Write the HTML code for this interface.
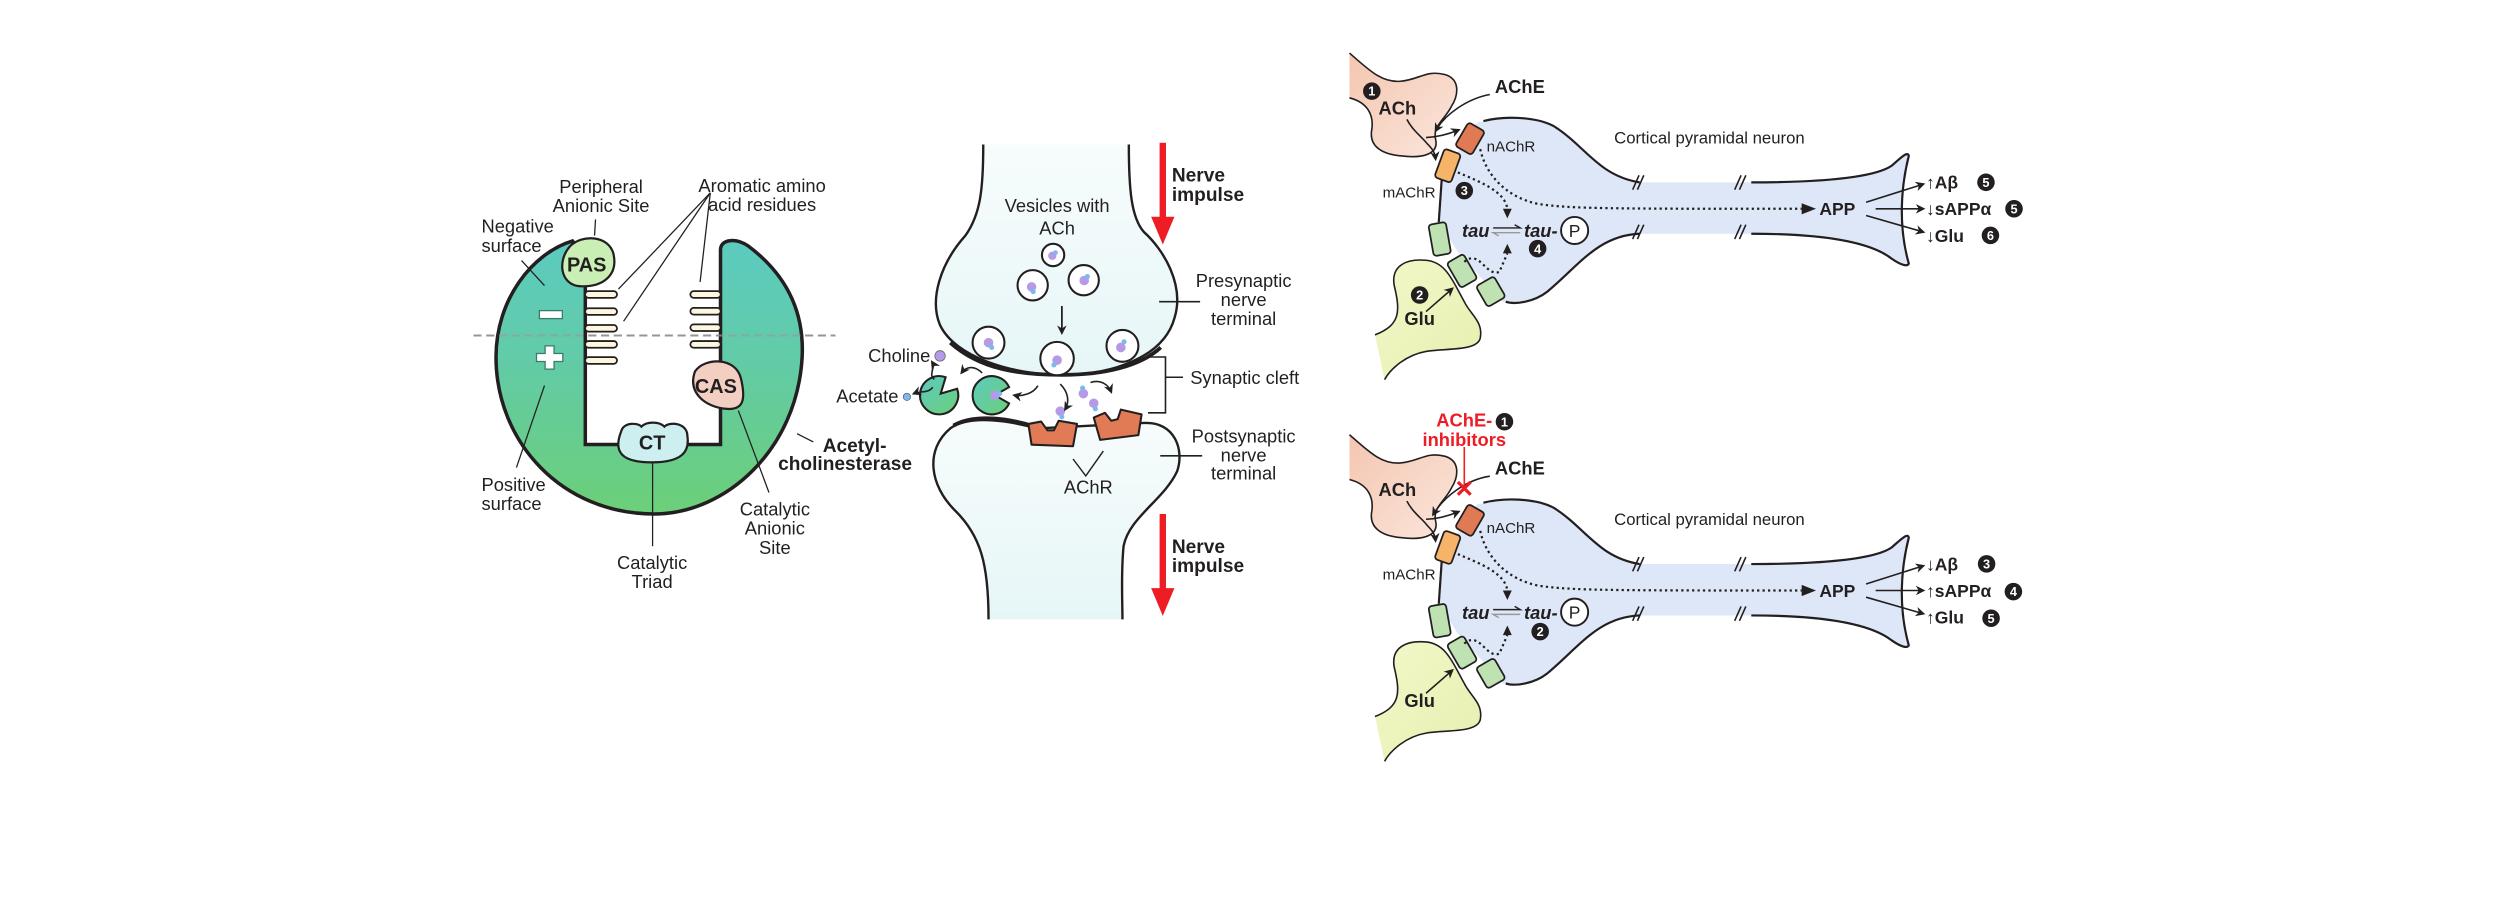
<!DOCTYPE html>
<html><head><meta charset="utf-8"><style>
html,body{margin:0;padding:0;background:#fff;}
svg{display:block;}
text{font-family:"Liberation Sans",sans-serif;fill:#231f20;}
.l{font-size:11.5px;}
.b{font-size:12px;font-weight:bold;}
.s{font-size:9.5px;}
.ns{vector-effect:non-scaling-stroke;}
</style></head><body>
<svg width="2500" height="918" viewBox="0 0 1568 576" preserveAspectRatio="none" xmlns="http://www.w3.org/2000/svg">
<defs>
<linearGradient id="ache" x1="0" y1="0" x2="0" y2="1"><stop offset="0" stop-color="#5ccbc0"/><stop offset="0.45" stop-color="#62cba6"/><stop offset="1" stop-color="#6ccf78"/></linearGradient>
<linearGradient id="enz" x1="0" y1="0" x2="1" y2="1"><stop offset="0" stop-color="#5ccbc0"/><stop offset="1" stop-color="#6ccf78"/></linearGradient>
<linearGradient id="term" x1="0" y1="0" x2="0" y2="1"><stop offset="0" stop-color="#f7fcfc"/><stop offset="1" stop-color="#e6f6f7"/></linearGradient>
<linearGradient id="pink" x1="0" y1="0" x2="1" y2="1"><stop offset="0" stop-color="#f4c6b0"/><stop offset="1" stop-color="#fbe6dc"/></linearGradient>
<linearGradient id="yel" x1="0" y1="0" x2="1" y2="1"><stop offset="0" stop-color="#f3f8c8"/><stop offset="1" stop-color="#e6efb0"/></linearGradient>
<marker id="ah" viewBox="0 0 10 10" refX="8" refY="5" markerWidth="6" markerHeight="6" markerUnits="userSpaceOnUse" orient="auto"><path d="M0 0 L10 5 L0 10 L3 5 Z" fill="#231f20"/></marker>
</defs>

<!-- ============ PANEL 1: AChE ============ -->
<line x1="297" y1="210.5" x2="524" y2="210.5" stroke="#8a8a8a" stroke-width="1.3" stroke-dasharray="5,3"/>
<path d="M367.1 161.3 L367.1 278.9 L451.9 278.9 L451.9 156.8 C451.9 150 461.5 149 469.5 154.5 C490.3 170.2 504.7 192.6 503.1 224 C499.9 282.2 455.1 322.5 410.3 322.5 C352.7 322.5 311.1 277.7 311.1 224 C311.1 188.1 333.5 159 359.1 151.2 Z" fill="url(#ache)" stroke="#231f20" stroke-width="2.2"/>
<line x1="297" y1="210.5" x2="524" y2="210.5" stroke="#9a9a9a" stroke-width="1.2" stroke-dasharray="5,3" opacity="0.7"/>
<g fill="#fdf7df" stroke="#231f20" stroke-width="1.1">
<rect x="367" y="182.7" width="20" height="4.2" rx="2.1"/><rect x="367" y="193.4" width="20" height="4.2" rx="2.1"/><rect x="367" y="203.9" width="20" height="4.2" rx="2.1"/><rect x="367" y="214" width="20" height="4.2" rx="2.1"/><rect x="367" y="224.1" width="20" height="4.2" rx="2.1"/>
<rect x="433" y="182.7" width="19" height="4.2" rx="2.1"/><rect x="433" y="193.2" width="19" height="4.2" rx="2.1"/><rect x="433" y="203.5" width="19" height="4.2" rx="2.1"/><rect x="433" y="214" width="19" height="4.2" rx="2.1"/>
</g>
<g fill="#fff" stroke="#3a7a6a" stroke-width="0.8">
<rect x="338.3" y="194.9" width="14.4" height="5"/>
<path d="M341.9 217 h5.6 v4.8 h5.5 v5 h-5.5 v4.8 h-5.6 v-4.8 h-5.4 v-5 h5.4 Z"/>
</g>
<path d="M357.5 154.5 C365.5 146.7 381.5 147.8 384.7 159 C387.9 172.5 378.3 180.3 363.9 179.6 C351.1 178.7 349.5 163.5 357.5 154.5 Z" fill="#c9efb4" stroke="#231f20" stroke-width="1.4"/>
<path d="M435.9 233 C442.3 224 461.5 224 464.7 237.4 C467.9 250.9 466.3 257.6 455.1 256.5 C442.3 255.3 431.1 246.4 435.9 233 Z" fill="#f3cfc2" stroke="#231f20" stroke-width="1.4"/>
<path d="M389.5 271 C391.1 264.3 400.7 265.4 402.3 267.7 C405.5 264.3 413.5 264.3 416.7 267.7 C419.9 264.3 431.1 265.4 431.1 273.3 C432.7 283.3 427.9 290.1 408.7 290.1 C389.5 290.1 384.7 283.3 389.5 271 Z" fill="#cdeff0" stroke="#231f20" stroke-width="1.4"/>
<text class="b" x="368" y="170.5" text-anchor="middle" style="font-size:12.5px">PAS</text>
<text class="b" x="449" y="246.5" text-anchor="middle" style="font-size:12.5px">CAS</text>
<text class="b" x="409" y="282" text-anchor="middle" style="font-size:12.5px">CT</text>
<g stroke="#231f20" stroke-width="0.8" fill="none">
<line x1="373.5" y1="137.7" x2="372.9" y2="147.8"/>
<line x1="445.5" y1="121" x2="387.9" y2="181.4"/><line x1="445.5" y1="121" x2="391.1" y2="201.6"/><line x1="445.5" y1="121" x2="439.1" y2="176.9"/>
<line x1="327.1" y1="163.5" x2="341.5" y2="179.2"/>
<line x1="341.5" y1="241.9" x2="323.9" y2="293.4"/>
<line x1="409.3" y1="290" x2="409.3" y2="342.7"/>
<line x1="463.1" y1="257.6" x2="482.3" y2="309"/>
<line x1="499.9" y1="272.1" x2="510.1" y2="277.3"/>
</g>
<g class="l">
<text x="377" y="121" text-anchor="middle">Peripheral</text>
<text x="377" y="133" text-anchor="middle">Anionic Site</text>
<text x="478" y="120.5" text-anchor="middle">Aromatic amino</text>
<text x="478" y="132.5" text-anchor="middle">acid residues</text>
<text x="302" y="146">Negative</text>
<text x="302" y="158">surface</text>
<text x="302" y="308">Positive</text>
<text x="302" y="320">surface</text>
<text x="409" y="357" text-anchor="middle">Catalytic</text>
<text x="409" y="369" text-anchor="middle">Triad</text>
<text x="486" y="323.5" text-anchor="middle">Catalytic</text>
<text x="486" y="335.5" text-anchor="middle">Anionic</text>
<text x="486" y="347.5" text-anchor="middle">Site</text>
</g>
<text class="b" x="516" y="283.5">Acetyl-</text>
<text class="b" x="572" y="295" text-anchor="end">cholinesterase</text>

<!-- ============ PANEL 2: Synapse ============ -->
<path d="M616.7 90.7 C616.7 118.7 615 134.4 605.5 147.8 C589.5 165.7 583 188 589.5 203.8 C599 224 634.3 235.2 666.3 235.2 C698 235.2 730 224 736.7 199.3 C743 179 730 156.8 717.5 145.6 C709.5 136.6 708 118.7 708 90.7" fill="url(#term)" stroke="#231f20" stroke-width="1.5"/>
<path d="M596 215 C615 232 640 235.2 666.3 235.2 C692 235.2 715 230 728 218" fill="none" stroke="#231f20" stroke-width="2.4"/>
<path d="M620 388.6 C620 353.9 615 336 599 320.3 C583 304.6 580 282.2 596 268.8 C608.7 259.8 634 264.3 650.3 268.8 L717.5 265.4 C736.7 264.3 743 282.2 738.3 295.7 C730 313.6 708 324.8 704.7 342.7 C703 360.6 704 376 704 388.6" fill="url(#term)" stroke="#231f20" stroke-width="1.5"/>
<path d="M598 267 C612 259 635 263 650 268" fill="none" stroke="#231f20" stroke-width="2.4"/>
<!-- receptors -->
<path d="M645 266 L653 264.5 L657 270 L661 270 L664 264 L675.5 266 L673 280 L647 279 Z" fill="#e07b56" stroke="#231f20" stroke-width="1.3" stroke-linejoin="round"/>
<path d="M686 262 L693 259 L697 264 L701 263 L703 257 L716 260 L714 273 L690 276 Z" fill="#e07b56" stroke="#231f20" stroke-width="1.3" stroke-linejoin="round"/>
<!-- vesicles -->
<g fill="#fff" stroke="#231f20" stroke-width="1.3">
<circle cx="660.5" cy="160" r="7"/><circle cx="647.7" cy="179" r="9.5"/><circle cx="679.7" cy="175.8" r="9.5"/>
<circle cx="620" cy="215" r="10"/><circle cx="663" cy="225" r="10.5"/><circle cx="704" cy="217" r="10"/>
</g>
<g>
<circle cx="660" cy="160.5" r="2.6" fill="#b59be6"/><circle cx="662" cy="158.5" r="1.5" fill="#7db8ef"/>
<circle cx="647" cy="180" r="3" fill="#b59be6"/><circle cx="648" cy="183" r="1.6" fill="#7db8ef"/>
<circle cx="680" cy="176" r="3" fill="#b59be6"/><circle cx="682" cy="173.5" r="1.6" fill="#7db8ef"/>
<circle cx="620" cy="215" r="3" fill="#b59be6"/><circle cx="622" cy="218" r="1.6" fill="#7db8ef"/>
<circle cx="663" cy="226" r="3" fill="#b59be6"/><circle cx="661" cy="229" r="1.6" fill="#7db8ef"/>
<circle cx="703" cy="218" r="3" fill="#b59be6"/><circle cx="705" cy="214.5" r="1.6" fill="#7db8ef"/>
<circle cx="679.5" cy="247" r="3" fill="#b59be6"/><circle cx="679" cy="243.5" r="1.6" fill="#7db8ef"/>
<circle cx="665" cy="258" r="3" fill="#b59be6"/><circle cx="666" cy="261.5" r="1.6" fill="#7db8ef"/>
<circle cx="686" cy="253" r="3" fill="#b59be6"/><circle cx="687" cy="256.5" r="1.6" fill="#7db8ef"/>
<circle cx="589.6" cy="223.3" r="3.3" fill="#b59be6" stroke="#555" stroke-width="0.4"/>
<circle cx="568.8" cy="249" r="2.3" fill="#7db8ef" stroke="#555" stroke-width="0.4"/>
</g>
<!-- enzymes -->
<path d="M590 247 L600.3 243.9 A12 12 0 1 1 593.1 236.7 Z" fill="url(#enz)" stroke="#231f20" stroke-width="1.3"/>
<path d="M624 248 L632.9 253.1 A12 12 0 1 1 632.9 242.9 Z" fill="url(#enz)" stroke="#231f20" stroke-width="1.3"/>
<circle cx="624" cy="248" r="3" fill="#b59be6"/><circle cx="627" cy="247" r="1.6" fill="#7db8ef"/>
<!-- small arrows -->
<g fill="none" stroke="#231f20" stroke-width="1" marker-end="url(#ah)">
<line x1="666" y1="192" x2="666" y2="209"/>
<path d="M616 234 C611 229 606 230 603 234"/>
<path d="M651 242 C648 247 641 249 636 248"/>
<path d="M665 241 C670 246 671 252 668 257"/>
<path d="M684 240 C690 238 695 241 697 246"/>
<path d="M586 238 C582 235 587 231 584.5 227"/>
<path d="M585 243 C582 247 578 245 573 247"/>
</g>
<line x1="666" y1="192" x2="666" y2="206" stroke="#231f20" stroke-width="1"/>
<!-- bracket -->
<path d="M720 224 H731 V259 H720 M731 236.7 H742" fill="none" stroke="#231f20" stroke-width="1"/>
<line x1="727" y1="189.3" x2="752.7" y2="189.3" stroke="#231f20" stroke-width="1"/>
<line x1="727.7" y1="286" x2="754" y2="286" stroke="#231f20" stroke-width="1"/>
<path d="M673 288 L681 298.6 L692 283" fill="none" stroke="#231f20" stroke-width="0.9"/>
<!-- red arrows -->
<g fill="#ee1c24">
<rect x="727.3" y="89.6" width="4" height="48"/><path d="M722 136 L736.6 136 L729.3 153.4 Z"/>
<rect x="727.3" y="322.5" width="4" height="48"/><path d="M722 369 L736.6 369 L729.3 386.4 Z"/>
</g>
<g class="l">
<text x="663" y="133" text-anchor="middle">Vesicles with</text>
<text x="663" y="147" text-anchor="middle">ACh</text>
<text x="583.5" y="227" text-anchor="end">Choline</text>
<text x="563.5" y="252.5" text-anchor="end">Acetate</text>
<text x="780" y="180" text-anchor="middle">Presynaptic</text>
<text x="780" y="192" text-anchor="middle">nerve</text>
<text x="780" y="204" text-anchor="middle">terminal</text>
<text x="746.5" y="241">Synaptic cleft</text>
<text x="780" y="277.5" text-anchor="middle">Postsynaptic</text>
<text x="780" y="289.5" text-anchor="middle">nerve</text>
<text x="780" y="301" text-anchor="middle">terminal</text>
<text x="682.6" y="309.5" text-anchor="middle">AChR</text>
</g>
<g class="b">
<text x="735" y="114">Nerve</text><text x="735" y="126">impulse</text>
<text x="735" y="347">Nerve</text><text x="735" y="359">impulse</text>
</g>

<!-- ============ PANEL 3: neuron (shared) ============ -->
<g id="base">
<g transform="translate(834.4,12.5) scale(0.4,0.208)">
<path class="ns" d="M30 100 C60 150 80 190 110 185 C140 180 150 150 180 165 C205 180 200 230 190 260 C180 300 160 320 165 360 C170 400 150 420 110 410 C80 405 60 380 65 330 C68 290 60 250 30 235" fill="url(#pink)" stroke="#231f20" stroke-width="1.6"/>
<path class="ns" d="M70 950 C110 920 110 880 100 800 C95 740 120 720 150 725 C180 730 190 780 210 850 C220 890 240 910 235 960 C230 1000 180 990 150 1000 C120 1010 95 1050 85 1085" fill="url(#yel)" stroke="#231f20" stroke-width="1.6"/>
<path d="M230 310 C270 290 320 290 350 320 C400 380 420 470 490 490 L650 490 C750 490 850 480 880 440 C895 415 905 395 907 410 C895 500 890 620 907 735 C905 745 895 740 880 720 C840 660 750 645 650 645 L490 645 C420 650 390 740 340 820 C320 850 290 860 270 850 L200 700 L170 610 L175 470 Z" fill="#dde7f7"/>
<g fill="none" stroke="#231f20" stroke-width="2.2" class="ns">
<path class="ns" d="M240 305 C270 290 320 290 350 320 C400 380 420 470 485 490"/>
<path class="ns" d="M660 490 C750 490 850 480 880 440 C895 415 905 395 907 410 C895 500 890 620 907 735 C905 745 895 740 880 720 C840 660 750 645 660 645"/>
<path class="ns" d="M485 645 C420 650 390 740 340 820 C320 850 290 860 275 850"/>
<path class="ns" d="M175 470 L170 610"/>
</g>
</g>
<!-- breaks -->
<g stroke="#231f20" stroke-width="1" fill="none">
<path d="M1028 110 L1024 119 M1031 110 L1027 119"/><path d="M1092 110 L1088 119 M1095 110 L1091 119"/>
<path d="M1028 141 L1024 150 M1031 141 L1027 150"/><path d="M1092 141 L1088 150 M1095 141 L1091 150"/>
</g>
<!-- receptors -->
<g stroke="#231f20" stroke-width="1.1" stroke-linejoin="round">
<rect x="916" y="78.5" width="12" height="17" rx="2" fill="#df7a55" transform="rotate(30 922 87)"/>
<rect x="902.5" y="94.5" width="11" height="19" rx="2" fill="#f5b468" transform="rotate(20 908 104)"/>
<rect x="897.5" y="140" width="11" height="20" rx="2" fill="#bfe2b3" transform="rotate(-10 903 150)"/>
<rect x="911" y="161" width="12" height="18" rx="2" fill="#bfe2b3" transform="rotate(-30 917 170)"/>
<rect x="928.5" y="175.5" width="13" height="15" rx="2" fill="#bfe2b3" transform="rotate(-30 935 183)"/>
</g>
<!-- arrows -->
<g fill="none" stroke="#231f20" stroke-width="1" marker-end="url(#ah)">
<path d="M882.4 74.9 C886 82 892 86 895 90 C899 94 900 96 900.4 99.9"/>
<path d="M894.4 86.3 C902 86 909 84 915 81.5"/>
<path d="M894.4 195.5 L911 181"/>
<path d="M1176.4 131 L1206.4 131"/>
<path d="M1170.4 126.9 L1206.4 115.5"/>
<path d="M1170.4 135.2 L1206.4 145.6"/>
</g>
<g fill="none" stroke="#231f20" stroke-width="1.4" stroke-dasharray="1.4,2">
<path d="M928.4 93.6 C932 110 945 124 965 128 C985 131 1010 131 1130 131"/>
<path d="M914.4 108.2 C928 114 944 120 945.4 131"/>
<path d="M918.4 164.3 C928 156 932 174 940.4 170.6 L945.4 159"/>
</g>
<g fill="#231f20">
<path d="M1130 127.5 L1139 131 L1130 134.5 Z"/>
<path d="M942.6 131 L945.4 137 L948.2 131 Z"/>
<path d="M942.6 159 L945.4 153 L948.2 159 Z"/>
</g>
<g stroke-width="0.9" fill="none">
<path d="M936.5 143 L953.5 143 L950 141" stroke="#231f20"/>
<path d="M953.5 146 L936.5 146 L940 148" stroke="#999"/>
</g>
<circle cx="987.6" cy="144.6" r="8.5" fill="#fff" stroke="#231f20" stroke-width="1.2"/>
<text x="987.6" y="148.6" text-anchor="middle" style="font-size:11px">P</text>
<text class="b" x="925.6" y="148.8" text-anchor="middle" style="font-style:italic;font-size:11.5px">tau</text>
<text class="b" x="966.4" y="148.8" text-anchor="middle" style="font-style:italic;font-size:11.5px">tau-</text>
<text class="b" x="876.4" y="71.8" text-anchor="middle" style="font-size:11.5px">ACh</text>
<text class="b" x="890.4" y="204" text-anchor="middle" style="font-size:11.5px">Glu</text>
<text class="b" x="937.6" y="58.3" style="font-size:11.5px">AChE</text>
<text class="s" x="932.4" y="95">nAChR</text>
<text class="s" x="900.4" y="124" text-anchor="end">mAChR</text>
<text x="1012.4" y="90" style="font-size:10.5px">Cortical pyramidal neuron</text>
<text class="b" x="1152.4" y="135" text-anchor="middle" style="font-size:11px">APP</text>
</g>
<use href="#base" transform="translate(0,239.5)"/>

<!-- top-panel specifics -->
<g fill="none" stroke="#231f20" stroke-width="1" marker-end="url(#ah)">
<path d="M934.4 59.3 C920 62 906 72 900.4 82.2"/>
</g>
<g font-size="8" font-weight="bold" text-anchor="middle">
<circle cx="860.4" cy="57.2" r="5.5" fill="#231f20"/><text x="860.4" y="60" fill="#fff" style="fill:#fff;font-size:8px;font-weight:bold">1</text>
<circle cx="890.4" cy="185.1" r="5.5" fill="#231f20"/><text x="890.4" y="188" style="fill:#fff;font-size:8px;font-weight:bold">2</text>
<circle cx="918.4" cy="119.6" r="5.5" fill="#231f20"/><text x="918.4" y="122.5" style="fill:#fff;font-size:8px;font-weight:bold">3</text>
<circle cx="964.4" cy="156" r="5.5" fill="#231f20"/><text x="964.4" y="159" style="fill:#fff;font-size:8px;font-weight:bold">4</text>
<circle cx="1245.6" cy="114.4" r="5.5" fill="#231f20"/><text x="1245.6" y="117.3" style="fill:#fff;font-size:8px;font-weight:bold">5</text>
<circle cx="1263.2" cy="131" r="5.5" fill="#231f20"/><text x="1263.2" y="134" style="fill:#fff;font-size:8px;font-weight:bold">5</text>
<circle cx="1248.4" cy="147.7" r="5.5" fill="#231f20"/><text x="1248.4" y="150.6" style="fill:#fff;font-size:8px;font-weight:bold">6</text>
</g>
<g class="b" style="font-size:11px">
<text x="1208" y="118.4">↑Aβ</text>
<text x="1208" y="135">↓sAPPα</text>
<text x="1208" y="151.7">↓Glu</text>
</g>

<!-- bottom-panel specifics -->
<g fill="none" stroke="#231f20" stroke-width="1" marker-end="url(#ah)">
<path d="M934.4 298.8 C920 301 906 311 898.8 323"/>
</g>
<line x1="918.4" y1="280.5" x2="918.4" y2="306" stroke="#ee1c24" stroke-width="1"/>
<path d="M914.4 302.4 L922.4 310.4 M922.4 302.4 L914.4 310.4" stroke="#ee1c24" stroke-width="2"/>
<text x="918.4" y="267.5" text-anchor="middle" style="font-size:11.5px;font-weight:bold;fill:#ee1c24">AChE-</text>
<text x="918.4" y="280" text-anchor="middle" style="font-size:11.5px;font-weight:bold;fill:#ee1c24">inhibitors</text>
<circle cx="943.6" cy="264.6" r="5.5" fill="#231f20"/><text x="943.6" y="267.5" text-anchor="middle" style="fill:#fff;font-size:8px;font-weight:bold">1</text>
<circle cx="966" cy="396.3" r="5.5" fill="#231f20"/><text x="966" y="399.2" text-anchor="middle" style="fill:#fff;font-size:8px;font-weight:bold">2</text>
<circle cx="1246" cy="353.8" r="5.5" fill="#231f20"/><text x="1246" y="356.7" text-anchor="middle" style="fill:#fff;font-size:8px;font-weight:bold">3</text>
<circle cx="1262.8" cy="371.2" r="5.5" fill="#231f20"/><text x="1262.8" y="374.1" text-anchor="middle" style="fill:#fff;font-size:8px;font-weight:bold">4</text>
<circle cx="1248.8" cy="387.9" r="5.5" fill="#231f20"/><text x="1248.8" y="390.8" text-anchor="middle" style="fill:#fff;font-size:8px;font-weight:bold">5</text>
<g class="b" style="font-size:11px">
<text x="1208" y="357.9">↓Aβ</text>
<text x="1208" y="374.5">↑sAPPα</text>
<text x="1208" y="391.2">↑Glu</text>
</g>
</svg>
</body></html>
